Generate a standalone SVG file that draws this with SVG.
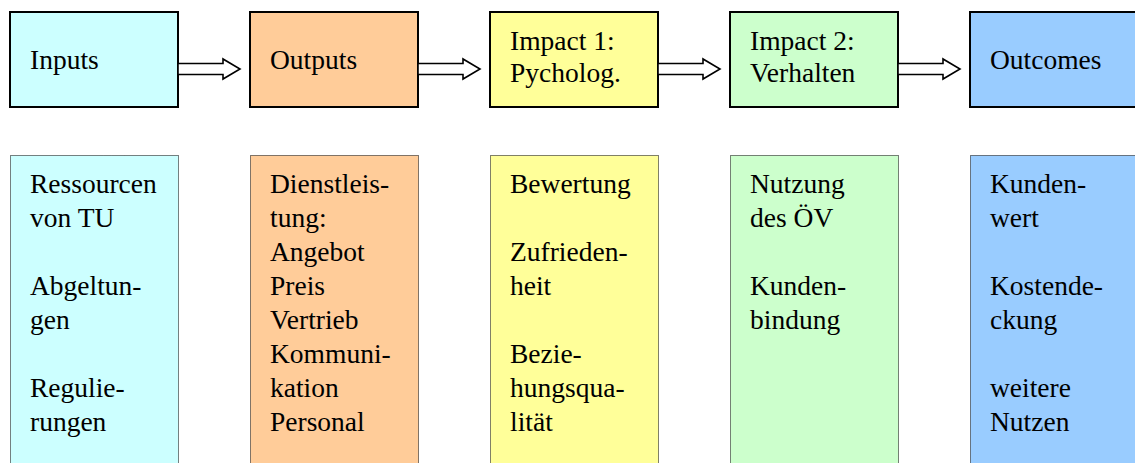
<svg xmlns="http://www.w3.org/2000/svg" width="1135" height="463" viewBox="0 0 1135 463">
  <style>
    .head { stroke: #000; stroke-width: 2; }
    .detail { stroke: #000; stroke-width: 1; stroke-dasharray: 1 1; }
    .arrow { fill: #fff; stroke: #000; stroke-width: 1.6; stroke-linejoin: miter; }
    text { font-family: "Liberation Serif", "Times New Roman", serif; font-size: 27.5px; fill: #000; }
    .c1 { fill: #CCFFFF; }
    .c2 { fill: #FFCC99; }
    .c3 { fill: #FFFF99; }
    .c4 { fill: #CCFFCC; }
    .c5 { fill: #99CCFF; }
  </style>
  <defs>
    <polygon id="blockArrow" class="arrow" points="0,63.5 45,63.5 45,59 62,69 45,79 45,74.5 0,74.5"/>
  </defs>
  <rect width="1135" height="463" fill="#fff"/>

  <!-- stage headers -->
  <g id="inputs">
    <rect class="head c1" x="10" y="12" width="168" height="95"/>
    <text x="30" y="69">Inputs</text>
  </g>
  <g id="outputs">
    <rect class="head c2" x="250" y="12" width="168" height="95"/>
    <text x="270" y="69">Outputs</text>
  </g>
  <g id="impact1">
    <rect class="head c3" x="490" y="12" width="168" height="95"/>
    <text x="510" y="50">Impact 1:</text>
    <text x="510" y="82">Pycholog.</text>
  </g>
  <g id="impact2">
    <rect class="head c4" x="730" y="12" width="168" height="95"/>
    <text x="750" y="50">Impact 2:</text>
    <text x="750" y="82">Verhalten</text>
  </g>
  <g id="outcomes">
    <rect class="head c5" x="970" y="12" width="168" height="95"/>
    <text x="990" y="69">Outcomes</text>
  </g>

  <!-- arrows between stages -->
  <g id="connectors">
    <use href="#blockArrow" x="178"/>
    <use href="#blockArrow" x="418"/>
    <use href="#blockArrow" x="658"/>
    <use href="#blockArrow" x="898"/>
  </g>

  <!-- detail columns -->
  <g id="inputs-detail">
    <rect class="detail c1" x="10.5" y="155.5" width="168" height="320"/>
    <text x="30" y="193">Ressourcen</text>
    <text x="30" y="227">von TU</text>
    <text x="30" y="295">Abgeltun-</text>
    <text x="30" y="329">gen</text>
    <text x="30" y="397">Regulie-</text>
    <text x="30" y="431">rungen</text>
  </g>
  <g id="outputs-detail">
    <rect class="detail c2" x="250.5" y="155.5" width="168" height="320"/>
    <text x="270" y="193">Dienstleis-</text>
    <text x="270" y="227">tung:</text>
    <text x="270" y="261">Angebot</text>
    <text x="270" y="295">Preis</text>
    <text x="270" y="329">Vertrieb</text>
    <text x="270" y="363">Kommuni-</text>
    <text x="270" y="397">kation</text>
    <text x="270" y="431">Personal</text>
  </g>
  <g id="impact1-detail">
    <rect class="detail c3" x="490.5" y="155.5" width="168" height="320"/>
    <text x="510" y="193">Bewertung</text>
    <text x="510" y="261">Zufrieden-</text>
    <text x="510" y="295">heit</text>
    <text x="510" y="363">Bezie-</text>
    <text x="510" y="397">hungsqua-</text>
    <text x="510" y="431">lität</text>
  </g>
  <g id="impact2-detail">
    <rect class="detail c4" x="730.5" y="155.5" width="168" height="320"/>
    <text x="750" y="193">Nutzung</text>
    <text x="750" y="227">des ÖV</text>
    <text x="750" y="295">Kunden-</text>
    <text x="750" y="329">bindung</text>
  </g>
  <g id="outcomes-detail">
    <rect class="detail c5" x="970.5" y="155.5" width="168" height="320"/>
    <text x="990" y="193">Kunden-</text>
    <text x="990" y="227">wert</text>
    <text x="990" y="295">Kostende-</text>
    <text x="990" y="329">ckung</text>
    <text x="990" y="397">weitere</text>
    <text x="990" y="431">Nutzen</text>
  </g>
</svg>
